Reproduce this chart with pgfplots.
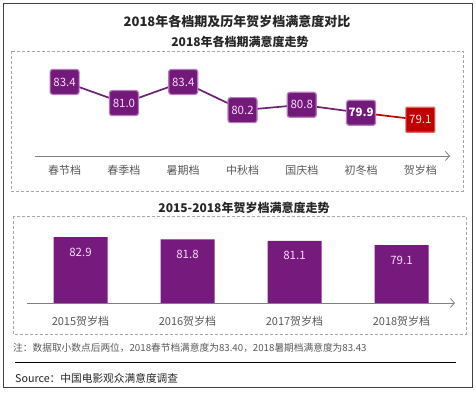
\documentclass[border=0pt]{standalone}
\usepackage{pgfplots}
\pgfplotsset{compat=1.18}
\usepackage{fontspec}
\setmainfont{Noto Sans CJK SC}
\usetikzlibrary{arrows.meta}
\definecolor{boxpurple}{HTML}{72197A}
\definecolor{boxedge}{HTML}{B57CBA}
\definecolor{linepurple}{HTML}{6B2372}
\definecolor{barpurple}{HTML}{761A7E}
\definecolor{redbox}{HTML}{C00000}
\definecolor{rededge}{HTML}{E26A6A}
\definecolor{labpink}{HTML}{F8DDF8}
\definecolor{axgray}{HTML}{808080}
\definecolor{txtgray}{HTML}{595959}
\definecolor{dashgray}{HTML}{A6A6A6}
\begin{document}
\begin{tikzpicture}
\begin{scope}[x=1pt,y=1pt]
\fill[white] (0,0) rectangle (476,393);
% outer frame
\draw[color=black!75,line width=0.8pt] (3,390) rectangle (472,6);
% titles
\node[font=\fontsize{13}{15}\selectfont\bfseries,text=black!85] at (237,372) {2018年各档期及历年贺岁档满意度对比};
\node[font=\fontsize{12}{14}\selectfont\bfseries,text=black!85] at (240,351) {2018年各档期满意度走势};
\node[font=\fontsize{12}{14}\selectfont\bfseries,text=black!85] at (244,185) {2015-2018年贺岁档满意度走势};
% dashed boxes
\draw[dashgray,dash pattern=on 3pt off 2pt,line width=0.6pt] (11,342) rectangle (463,202);
\draw[dashgray,dash pattern=on 3pt off 2pt,line width=0.6pt] (13,177) rectangle (466,59);
% note and source
\node[anchor=west,inner sep=0pt,font=\fontsize{9.7}{11}\selectfont,text=txtgray] at (13,45) {注：数据取小数点后两位，2018春节档满意度为83.40，2018暑期档满意度为83.43};
\draw[black,line width=0.8pt] (15,31) -- (456,31);
\node[anchor=west,inner sep=0pt,font=\fontsize{10.7}{13}\selectfont,text=black!85] at (15,15) {Source：中国电影观众满意度调查};
\end{scope}
% top chart
\begin{axis}[
  at={(35pt,237pt)}, anchor=south west,
  scale only axis, width=415pt, height=97pt,
  xmin=-0.5, xmax=6.5, ymin=75, ymax=86,
  axis x line=bottom, axis y line=none,
  x axis line style={axgray,line width=0.8pt,-{Straight Barb[length=4pt,width=9pt]}},
  xtick={0,1,2,3,4,5,6},
  xticklabels={\mbox{春节档},\mbox{春季档},\mbox{暑期档},\mbox{中秋档},\mbox{国庆档},\mbox{初冬档},\mbox{贺岁档}},
  major tick length=0pt,
  xticklabel style={font=\fontsize{11}{13}\selectfont,text=txtgray,inner sep=0pt,yshift=-9.5pt},
  ytick=\empty,
  clip=false,
  point meta=explicit symbolic,
]
\addplot[linepurple,line width=1.7pt,mark=none] coordinates {(0,83.4) (1,81.0) (2,83.4) (3,80.2) (4,80.8) (5,79.9)};
\addplot[redbox,line width=1.7pt,mark=none] coordinates {(5,79.9) (6,79.1)};
\addplot[draw=none,mark=none,nodes near coords,
  nodes near coords style={anchor=center,fill=boxpurple,draw=boxedge,line width=1.2pt,rounded corners=2.5pt,minimum width=29pt,minimum height=25pt,inner sep=0pt,text=labpink,font=\fontsize{11.5}{13}\selectfont}]
  coordinates {(0,83.4) [83.4] (1,81.0) [81.0] (2,83.4) [83.4] (3,80.2) [80.2] (4,80.8) [80.8]};
\addplot[draw=none,mark=none,nodes near coords,
  nodes near coords style={anchor=center,fill=boxpurple,draw=boxedge,line width=1.2pt,rounded corners=2.5pt,minimum width=29pt,minimum height=25pt,inner sep=0pt,text=white,font=\fontsize{11.5}{13}\selectfont\bfseries}]
  coordinates {(5,79.9) [79.9]};
\addplot[draw=none,mark=none,nodes near coords,
  nodes near coords style={anchor=center,fill=redbox,draw=rededge,line width=1.2pt,rounded corners=0.8pt,minimum width=29pt,minimum height=25pt,inner sep=0pt,text=white!90!red,font=\fontsize{11.5}{13}\selectfont}]
  coordinates {(6,79.1) [79.1]};
\end{axis}
% bottom chart
\begin{axis}[
  at={(27pt,90pt)}, anchor=south west,
  scale only axis, width=428pt, height=68.25pt,
  xmin=-0.5, xmax=3.5, ymin=51.5, ymax=84,
  axis x line=bottom, axis y line=none,
  x axis line style={axgray,line width=0.8pt,-{Straight Barb[length=4pt,width=9pt]}},
  xtick={0,1,2,3},
  xticklabels={\mbox{2015贺岁档},\mbox{2016贺岁档},\mbox{2017贺岁档},\mbox{2018贺岁档}},
  major tick length=0pt,
  xticklabel style={font=\fontsize{11}{13}\selectfont,text=txtgray,inner sep=0pt,yshift=-13.5pt},
  ytick=\empty,
  point meta=explicit symbolic,
]
\addplot[ybar,bar width=54pt,fill=barpurple,draw=none,
  nodes near coords,
  nodes near coords style={anchor=center,yshift=-15pt,text=labpink,font=\fontsize{11.5}{13}\selectfont}]
  coordinates {(0,82.9) [82.9] (1,81.8) [81.8] (2,81.1) [81.1] (3,79.1) [79.1]};
\end{axis}
\end{tikzpicture}
\end{document}
